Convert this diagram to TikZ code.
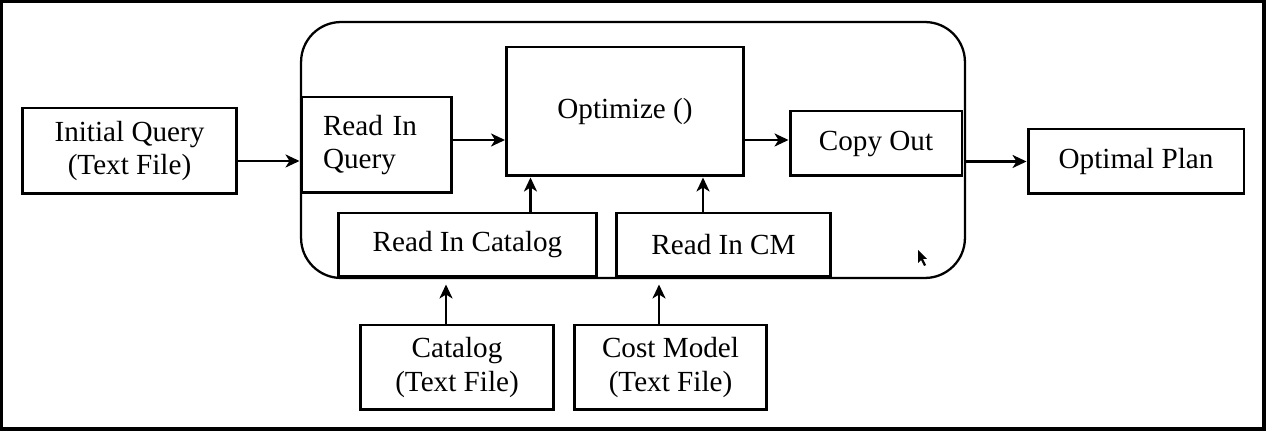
\documentclass[tikz,border=0pt]{standalone}
\usepackage{fontspec}
\setmainfont{Liberation Serif}
\usetikzlibrary{arrows.meta, positioning, calc}

\tikzset{
    blk/.style={draw, line width=1.7pt, align=center, inner sep=0pt,
      font=\fontsize{16.6}{19.3}\selectfont},
    arr/.style={-{Stealth[length=0.28cm, width=0.26cm, inset=0.08cm]}, line width=1.35pt},
}

\begin{document}
\begin{tikzpicture}[x=0.02cm, y=-0.02cm]
    \useasboundingbox (0,0) rectangle (1267,431);
    \draw[line width=1.8pt] (1.5,1.5) rectangle (1264,429);

    \node[draw, line width=1.3pt, rounded corners=0.8cm,
      minimum width=13.28cm, minimum height=5.12cm] (engine) at (633,150) {};

    \node[blk, minimum width=4.3cm, minimum height=1.72cm] (query) at (129.5,151)
      {Initial Query\\(Text File)};
    \node[blk, align=left, text width=2.14cm, inner xsep=0.44cm,
      minimum height=1.92cm] (readq) at (376.5,145) {Read In\\Query};
    \node[blk, minimum width=4.74cm, minimum height=2.58cm] (optim) at (625,111.5)
      {Optimize ()};
    \node[blk, minimum width=3.44cm, minimum height=1.3cm] (copyout) at (876,143.5)
      {Copy Out};
    \node[blk, minimum width=4.32cm, minimum height=1.3cm] (plan) at (1136,161.5)
      {Optimal Plan};

    \node[blk, minimum width=5.18cm, minimum height=1.28cm] (readcat) at (467.5,245)
      {Read In Catalog};
    \node[blk, minimum width=4.3cm, minimum height=1.28cm] (readcm) at (723.5,245)
      {Read In CM};

    \node[blk, minimum width=3.88cm, minimum height=1.7cm] (catalog) at (457,367.5)
      {Catalog\\(Text File)};
    \node[blk, minimum width=3.86cm, minimum height=1.7cm] (costmod) at (670.5,367.5)
      {Cost Model\\(Text File)};

    \coordinate (q1) at ([yshift=-0.2cm]query.east);
    \coordinate (q2) at ([yshift=0.1cm]readq.east);
    \coordinate (q3) at ([yshift=-0.57cm]optim.east);
    \coordinate (c1) at ([xshift=1.26cm]readcat.north);
    \coordinate (c2) at ([xshift=-0.41cm]readcm.north);
    \coordinate (f1) at ([xshift=-0.22cm]catalog.north);
    \coordinate (f2) at ([xshift=-0.23cm]costmod.north);

    \draw[arr] (q1) -- (readq.west |- q1);
    \draw[arr] (q2) -- (optim.west |- q2);
    \draw[arr] (q3) -- (copyout.west |- q3);
    \draw[arr] (engine.east |- plan.west) -- (plan.west);

    \draw[arr] (c1) -- (optim.south -| c1);
    \draw[arr] (c2) -- (optim.south -| c2);

    \draw[arr, shorten >=0.12cm] (f1) -- (readcat.south -| f1);
    \draw[arr, shorten >=0.12cm] (f2) -- (readcm.south -| f2);

    \fill (918,250) -- (918,263) -- (921,260) -- (924,266) -- (926,265)
      -- (923,259) -- (927,259) -- cycle;
\end{tikzpicture}
\end{document}
